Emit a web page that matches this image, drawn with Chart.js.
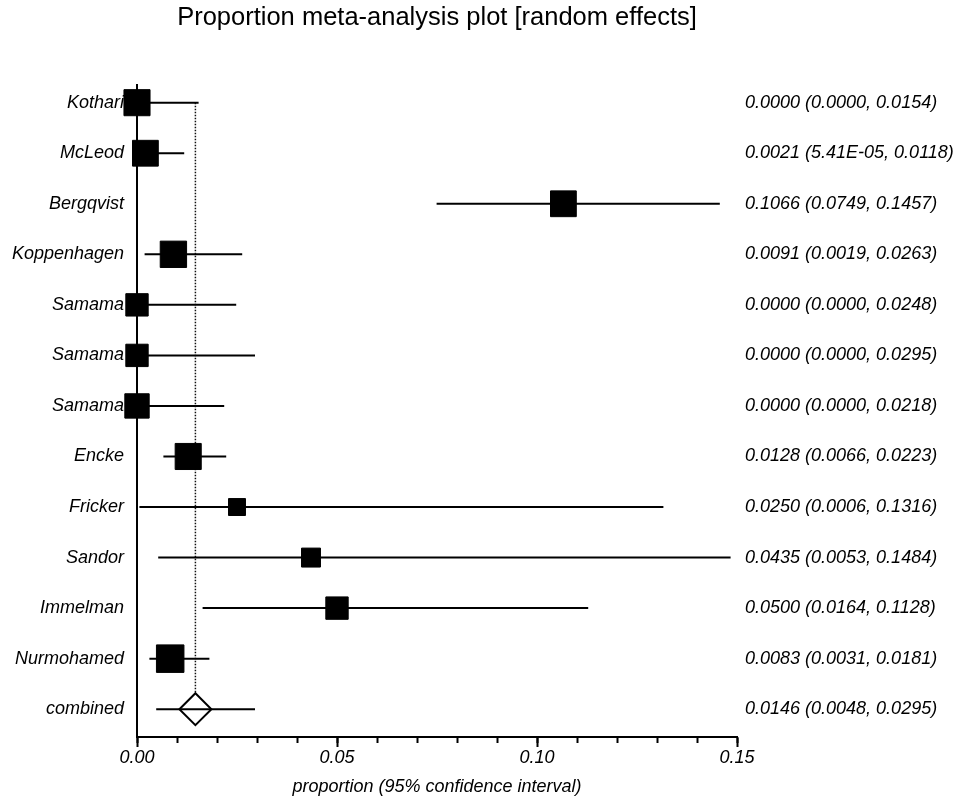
<!DOCTYPE html>
<html>
<head>
<meta charset="utf-8">
<script src="https://cdn.jsdelivr.net/npm/chart.js@4.4.1/dist/chart.umd.min.js"></script>
<style>
  html, body { margin: 0; padding: 0; background: #fff; }
  canvas { display: block; }
</style>
</head>
<body>
<canvas id="forest" width="960" height="806"></canvas>
<script>
const studies = ['Kothari', 'McLeod', 'Bergqvist', 'Koppenhagen', 'Samama', 'Samama', 'Samama',
    'Encke', 'Fricker', 'Sandor', 'Immelman', 'Nurmohamed', 'combined'];
const estimate = [0.0000, 0.0021, 0.1066, 0.0091, 0.0000, 0.0000, 0.0000, 0.0128, 0.0250, 0.0435, 0.0500, 0.0083, 0.0146];
const lower = [0.0000, 0.0000541, 0.0749, 0.0019, 0.0000, 0.0000, 0.0000, 0.0066, 0.0006, 0.0053, 0.0164, 0.0031, 0.0048];
const upper = [0.0154, 0.0118, 0.1457, 0.0263, 0.0248, 0.0295, 0.0218, 0.0223, 0.1316, 0.1484, 0.1128, 0.0181, 0.0295];
// relative study weights (box size), last row is the pooled estimate
const weight = [9.5, 9.4, 9.4, 9.6, 8.2, 8.2, 8.9, 9.5, 6.3, 7.0, 8.2, 10.0];
const xTicks = [0, 0.05, 0.10, 0.15];

const pooled = studies.length - 1;
const ink = '#000';
const italic = (size) => ({ family: "'Liberation Sans', Arial, sans-serif", size: size, style: 'italic' });

function fmt(v) {
    if (v > 0 && v < 0.0001) {
        const [m, e] = v.toExponential(2).split('e');
        const n = parseInt(e, 10);
        return m + 'E' + (n < 0 ? '-' : '+') + String(Math.abs(n)).padStart(2, '0');
    }
    return v.toFixed(4);
}

// --- datasets ---
const ciLines = studies.map((name, i) => ({
    label: name,
    data: [{ x: lower[i], y: i }, { x: upper[i], y: i }],
    showLine: true,
    borderColor: ink,
    borderWidth: 2,
    pointRadius: 0,
    clip: false,
    order: 2
}));

const boxes = {
    label: 'study',
    data: weight.map((w, i) => ({ x: estimate[i], y: i })),
    pointStyle: 'rect',
    pointRadius: weight.map(w => (w * 2.85 - 1) / Math.SQRT2),
    backgroundColor: ink,
    borderColor: ink,
    borderWidth: 1,
    clip: false,
    order: 1
};

const diamond = {
    label: 'pooled',
    data: [{ x: estimate[pooled], y: pooled }],
    pointStyle: 'rectRot',
    pointRadius: 16,
    backgroundColor: '#fff',
    borderColor: ink,
    borderWidth: 2,
    clip: false,
    order: 3
};

const refLine = {
    label: 'ref',
    data: [{ x: estimate[pooled], y: 0 }, { x: estimate[pooled], y: pooled }],
    showLine: true,
    borderColor: '#111',
    borderWidth: 1.5,
    borderDash: [1.5, 1.5],
    pointRadius: 0,
    order: 4
};

const rowTicks = s => { s.ticks = studies.map((_, i) => ({ value: i })); };

new Chart(document.getElementById('forest'), {
    type: 'scatter',
    data: { datasets: [refLine, diamond, ...ciLines, boxes] },
    options: {
        responsive: false,
        animation: false,
        layout: { padding: 0 },
        plugins: {
            legend: { display: false },
            tooltip: { enabled: false },
            title: {
                display: true,
                fullSize: false,
                text: 'Proportion meta-analysis plot [random effects]',
                color: ink,
                font: { family: "'Liberation Sans', Arial, sans-serif", size: 25.5, weight: 'normal' },
                padding: { top: 3, bottom: 51.4 }
            }
        },
        scales: {
            // minor ticks every 0.01, labels on the major values
            x: {
                type: 'linear',
                min: 0,
                max: 0.15,
                weight: 1,
                afterFit: s => { s.height = 69; },
                border: { display: true, color: ink, width: 2 },
                grid: { drawOnChartArea: false, tickLength: 6, tickWidth: 2, tickColor: ink },
                ticks: {
                    stepSize: 0.01,
                    autoSkip: false,
                    maxRotation: 0,
                    padding: 4,
                    color: ink,
                    font: italic(18),
                    callback: v => xTicks.some(t => Math.abs(t - v) < 1e-6) ? Number(v).toFixed(2) : ''
                },
                title: {
                    display: true,
                    text: 'proportion (95% confidence interval)',
                    color: ink,
                    font: italic(18),
                    padding: { top: 0, bottom: 8 }
                }
            },
            // longer major tick marks only
            xMajor: {
                type: 'linear',
                position: 'bottom',
                min: 0,
                max: 0.15,
                weight: 0,
                afterBuildTicks: s => { s.ticks = xTicks.map(v => ({ value: v })); },
                afterFit: s => { s.height = 0; },
                border: { display: false },
                grid: { drawOnChartArea: false, tickLength: 10, tickWidth: 2, tickColor: ink },
                ticks: { display: false }
            },
            y: {
                type: 'linear',
                position: 'left',
                reverse: true,
                min: -0.35,
                max: 12.55,
                afterBuildTicks: rowTicks,
                afterFit: s => { s.width = 137; },
                border: { display: true, color: ink, width: 2 },
                grid: { display: false, drawTicks: false },
                ticks: {
                    padding: 13,
                    color: ink,
                    font: italic(18),
                    callback: v => studies[v]
                }
            },
            y2: {
                type: 'linear',
                position: 'right',
                reverse: true,
                min: -0.35,
                max: 12.55,
                afterBuildTicks: rowTicks,
                afterFit: s => { s.width = 223; },
                border: { display: false },
                grid: { display: false, drawTicks: false },
                ticks: {
                    padding: 8,
                    color: ink,
                    font: italic(18),
                    callback: v => `${fmt(estimate[v])} (${fmt(lower[v])}, ${fmt(upper[v])})`
                }
            }
        }
    }
});
</script>
</body>
</html>
